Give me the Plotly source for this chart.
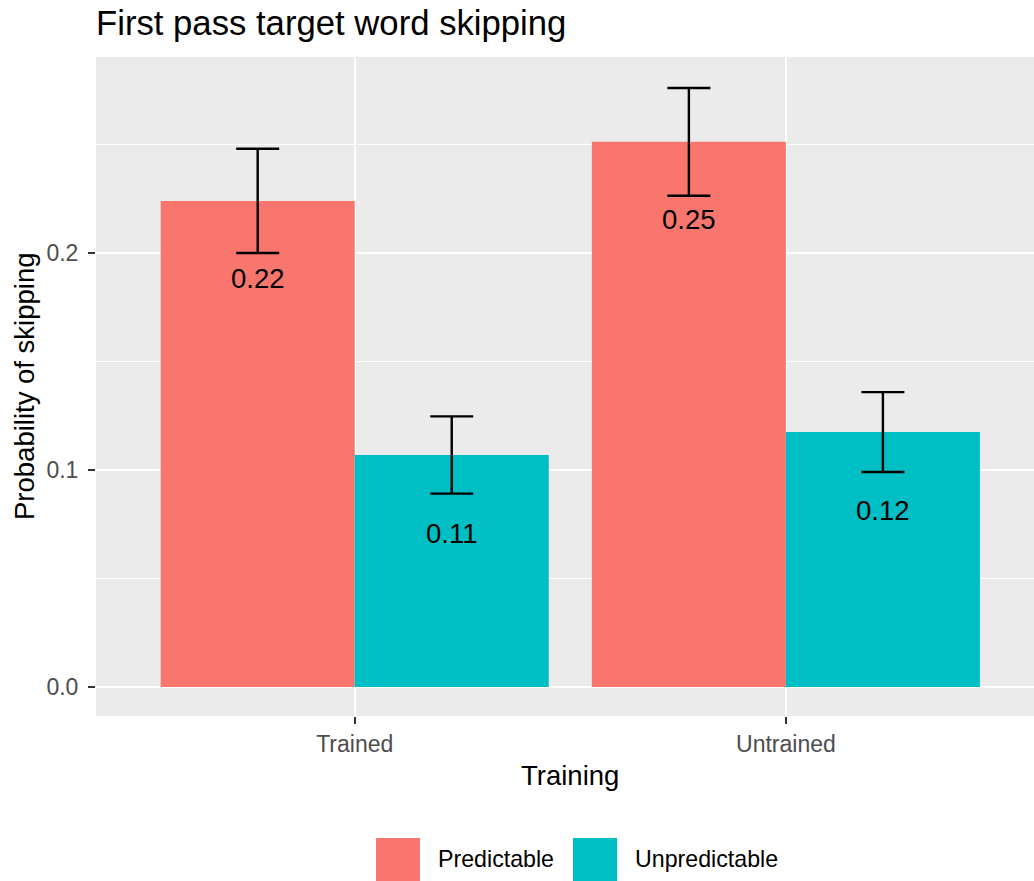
import plotly.graph_objects as go

# ---- data ----
training = ["Trained", "Untrained"]
groups = ["Predictable", "Unpredictable"]
pred_mean = [0.224, 0.2512]
unpred_mean = [0.1069, 0.1175]
pred_err = [0.024, 0.0248]
unpred_err = [0.0178, 0.0184]
colors = ["#F8766D", "#00BFC4"]

W, H = 1034, 881
L, R, T, B = 96, 0, 57, 165
PW, PH = W - L - R, H - T - B


def px2x(px):
    return (px - L) / PW


def px2y(py):
    return (H - B - py) / PH


font = "Liberation Sans, Arial, sans-serif"
fig = go.Figure()
means = [pred_mean, unpred_mean]
errs = [pred_err, unpred_err]
for g, m, e, c in zip(groups, means, errs, colors):
    fig.add_trace(go.Bar(
        x=training, y=m, name=g, marker=dict(color=c, line=dict(width=0)),
        error_y=dict(type="data", array=e, visible=True, color="black",
                     thickness=2.4, width=21.5),
        showlegend=False,
    ))

annotations = []
# value labels below bar tops
bar_half = 0.225
for gi, m in enumerate(means):
    for ci, v in enumerate(m):
        annotations.append(dict(
            x=ci + (gi - 0.5) * 2 * bar_half, y=v, xref="x", yref="y",
            text=f"{v:.2f}", showarrow=False, yshift=-78,
            font=dict(family=font, size=27.5, color="black"),
        ))

# axis titles
annotations.append(dict(x=px2x(570), y=px2y(776), xref="paper", yref="paper",
                        text="Training", showarrow=False, xanchor="center",
                        yanchor="middle", font=dict(family=font, size=27.5, color="black")))
annotations.append(dict(x=px2x(24), y=px2y(386), xref="paper", yref="paper",
                        text="Probability of skipping", showarrow=False, textangle=-90,
                        xanchor="center", yanchor="middle",
                        font=dict(family=font, size=27.5, color="black")))

# manual legend (large ggplot-style keys)
shapes = []
key_x = [376, 573]
key_size = 44
key_top = 838
for g, c, kx in zip(groups, colors, key_x):
    shapes.append(dict(type="rect", xref="paper", yref="paper",
                       x0=px2x(kx), x1=px2x(kx + key_size),
                       y0=px2y(key_top + key_size), y1=px2y(key_top),
                       fillcolor=c, line=dict(width=0)))
    annotations.append(dict(x=px2x(kx + key_size + 16), y=px2y(key_top + 21),
                            xref="paper", yref="paper", text=g, showarrow=False,
                            xanchor="left", yanchor="middle",
                            font=dict(family=font, size=23.2, color="black")))

fig.update_layout(
    width=W, height=H,
    margin=dict(l=L, r=R, t=T, b=B, pad=0),
    paper_bgcolor="white", plot_bgcolor="#EBEBEB",
    barmode="group", bargap=0.1, bargroupgap=0,
    title=dict(text="First pass target word skipping", x=px2x(96), xref="paper",
               xanchor="left", y=1 - 23 / H, yref="container", yanchor="middle",
               font=dict(family=font, size=34.7, color="black")),
    font=dict(family=font),
    annotations=annotations,
    shapes=shapes,
    showlegend=False,
)
fig.update_xaxes(
    type="category", range=[-0.6, 1 + (W - 786) / 431],
    showgrid=True, gridcolor="white", gridwidth=2.4,
    ticks="outside", ticklen=7, tickwidth=2.2, tickcolor="#333333",
    tickfont=dict(family=font, size=23, color="#4D4D4D"),
    ticklabelstandoff=0, showline=False, zeroline=False,
)
fig.update_yaxes(
    range=[-0.01336, 0.2903], tickvals=[0, 0.1, 0.2], ticktext=["0.0", "0.1", "0.2"],
    showgrid=True, gridcolor="white", gridwidth=2.4,
    minor=dict(tickvals=[0.05, 0.15, 0.25], showgrid=True, gridcolor="white",
               gridwidth=1.2, ticks=""),
    ticks="outside", ticklen=7, tickwidth=2.2, tickcolor="#333333",
    tickfont=dict(family=font, size=23, color="#4D4D4D"),
    ticklabelstandoff=5, showline=False, zeroline=False,
)

fig.write_html("out.html")
